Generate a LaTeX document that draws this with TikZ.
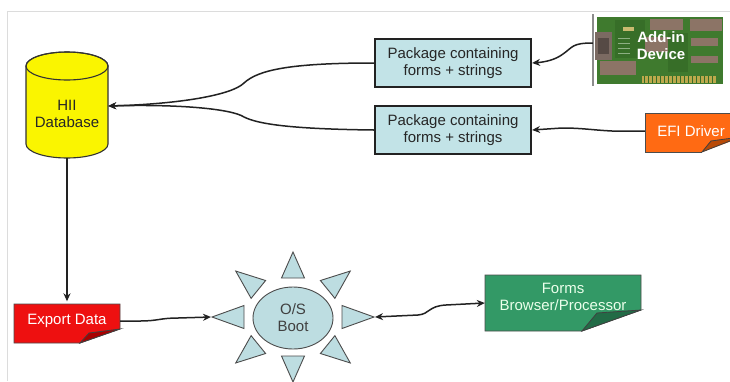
\documentclass[tikz,border=0pt]{standalone}
\usepackage{fontspec}
\setmainfont{Liberation Sans}
\usetikzlibrary{arrows.meta,calc,shapes.geometric}

\definecolor{framegray}{HTML}{DCDCDC}
\definecolor{linedark}{HTML}{222222}
\definecolor{dbyellow}{HTML}{FAF500}
\definecolor{pkgblue}{HTML}{C2E3E7}
\definecolor{sunblue}{HTML}{BDDDE1}
\definecolor{notered}{HTML}{EE1010}
\definecolor{notereddk}{HTML}{A80000}
\definecolor{noteorange}{HTML}{FF6A13}
\definecolor{noteorangedk}{HTML}{B94A06}
\definecolor{notegreen}{HTML}{339966}
\definecolor{notegreendk}{HTML}{226B46}
\definecolor{pcb}{HTML}{3F7A2E}
\definecolor{pcbdk}{HTML}{376E28}
\definecolor{chip}{HTML}{8C7466}
\definecolor{gold}{HTML}{BCA94C}
\definecolor{metal}{HTML}{7B6A62}

\begin{document}
\begin{tikzpicture}[x=1pt,y=-1pt,
  lbl/.style={font=\fontsize{15}{17}\selectfont, align=center, inner sep=0pt},
  conn/.style={draw=linedark, line width=1.5pt, -{Stealth[length=8pt,width=7pt]}},
  conn2/.style={draw=linedark, line width=1.5pt, {Stealth[length=8pt,width=7pt]}-{Stealth[length=8pt,width=7pt]}},
  pkgbox/.style={lbl, draw=linedark, line width=2.2pt, fill=pkgblue,
    minimum width=156pt, minimum height=48pt, text=black!85},
  notebody/.style={draw=black!70, line width=0.8pt},
  flap/.style={draw=black!75, line width=0.8pt},
  ray/.style={draw=black!70, line width=0.9pt, fill=sunblue}]

\useasboundingbox (0,0) rectangle (730,381);
\clip (0,0) rectangle (730,381);
\fill[white] (0,0) rectangle (730,381);

% page frame
\draw[framegray, line width=1pt] (7,381) -- (7,11) -- (730,11);

% ---------- HII database cylinder ----------
\node[inner sep=0pt, minimum width=82pt, minimum height=104pt] (db) at (67,106) {};
\draw[fill=dbyellow, draw=black!80, line width=1.1pt]
  (26,66) -- (26,144) arc[start angle=180, end angle=360, x radius=41pt, y radius=14pt]
  -- (108,66) arc[start angle=0, end angle=180, x radius=41pt, y radius=14pt] -- cycle;
\draw[draw=black!80, line width=1.1pt] (67,66) ellipse [x radius=41pt, y radius=14pt];
\node[lbl, text=black!85] (dbtxt) at (67,114) {HII\\Database};

% ---------- packages ----------
\node[pkgbox] (pk1) at (453,63) {Package containing\\forms + strings};
\node[pkgbox] (pk2) at (453,130) {Package containing\\forms + strings};

% ---------- add-in device card ----------
\node[inner sep=0pt, minimum width=130pt, minimum height=68pt] (card) at (658,51) {};
\fill[pcb] (597,17) rectangle (723,84);
\fill[pcbdk] (615,20) rectangle (645,58);
\fill[pcbdk] (668,33) rectangle (688,72);
\fill[chip] (650,19) rectangle (683,30);
\fill[chip] (690,19) rectangle (722,31);
\fill[chip] (691,38) rectangle (718,46);
\fill[chip] (691,56) rectangle (718,63);
\fill[chip] (600,61) rectangle (636,75);
\fill[chip] (645,37) rectangle (668,52);
\fill[gold!80!white] (623,27) rectangle (634,31);
\draw[pcb!60!white, line width=0.6pt] (618,38) -- (630,38) (618,43) -- (630,43) (618,48) -- (630,48) (618,53) -- (630,53);
\fill[gold] (642,76) rectangle (716,83);
\foreach \k in {0,...,17} {\draw[pcbdk, line width=0.5pt] ({644+4*\k},76) -- ({644+4*\k},83);}
\fill[metal] (595,32) rectangle (612,60);
\fill[metal!70!black] (598,38) rectangle (609,54);
\draw[black!45, line width=1.4pt] (593,14) -- (593,86);
\node[font=\fontsize{15}{17}\selectfont\bfseries, text=white, align=center, inner sep=0pt]
  (cardtxt) at (661,46) {Add-in\\Device};

% ---------- EFI driver note ----------
\fill[noteorange] (645,113) -- (740,113) -- (740,138) -- (702,152) -- (645,152) -- cycle;
\draw[notebody] (740,113) -- (645,113) -- (645,152) -- (702,152);
\draw[flap, fill=noteorangedk] (740,137) -- (711,141) -- (702,152) -- cycle;
\node[lbl, text=white, minimum width=92pt, minimum height=39pt] (efi) at (691,131) {EFI Driver};

% ---------- export data note ----------
\draw[notebody, fill=notered] (14,304) -- (120,304) -- (120,329) -- (80,343) -- (14,343) -- cycle;
\draw[flap, fill=notereddk] (120,329) -- (89,333) -- (80,343) -- cycle;
\node[lbl, text=white, minimum width=106pt, minimum height=39pt] (exp) at (67,321) {Export Data};

% ---------- forms browser note ----------
\draw[notebody, fill=notegreen] (485,275) -- (641,275) -- (641,310) -- (582,331) -- (485,331) -- cycle;
\draw[flap, fill=notegreendk] (641,310) -- (597,313) -- (582,331) -- cycle;
\node[inner sep=0pt, minimum width=156pt, minimum height=56pt] (frm) at (563,303) {};
\node[lbl, text=white!92!green] (frmtxt) at (563,297) {Forms\\Browser/Processor};

% ---------- O/S boot sun ----------
\foreach \a in {0,45,...,315} {
  \coordinate (rb) at ({293+49*cos(\a)},{317-39*sin(\a)});
  \coordinate (rp) at ({293+81*cos(\a)},{317-65*sin(\a)});
  \draw[ray] (rp) -- ($(rb)!11.5pt!90:(rp)$) -- ($(rb)!11.5pt!-90:(rp)$) -- cycle;
}
\node[ellipse, draw=black!70, line width=0.9pt, fill=sunblue, minimum width=80pt,
  minimum height=62pt, lbl, text=black!75] (os) at (293,318) {O/S\\Boot};
\coordinate (rayW) at (211,317);
\coordinate (rayE) at (375,317);

% ---------- connectors ----------
\draw[conn] (pk1.west) .. controls (290,63) and (258,70) .. (244,83)
  .. controls (232,95) and (180,104) .. (db.east);
\draw[conn] (pk2.west) .. controls (290,129) and (258,124) .. (244,117)
  .. controls (232,109) and (180,104) .. (db.east);
\draw[conn] ([yshift=8pt]card.west) .. controls (572,43) and (573,47) .. (563,54)
  .. controls (555,60) and (545,62) .. (pk1.east);
\draw[conn] (efi.west) -- (612,131) .. controls (592,130) and (582,128) .. (562,128) -- (pk2.east);
\draw[conn] (db.south) -- (exp.north);
\draw[conn] (exp.east) -- (140,321) .. controls (158,321) and (160,318) .. (178,318) -- (rayW);
\draw[conn2] (rayE) -- (418,315) .. controls (430,314) and (428,306) .. (446,305) -- (frm.west);

\end{tikzpicture}
\end{document}
